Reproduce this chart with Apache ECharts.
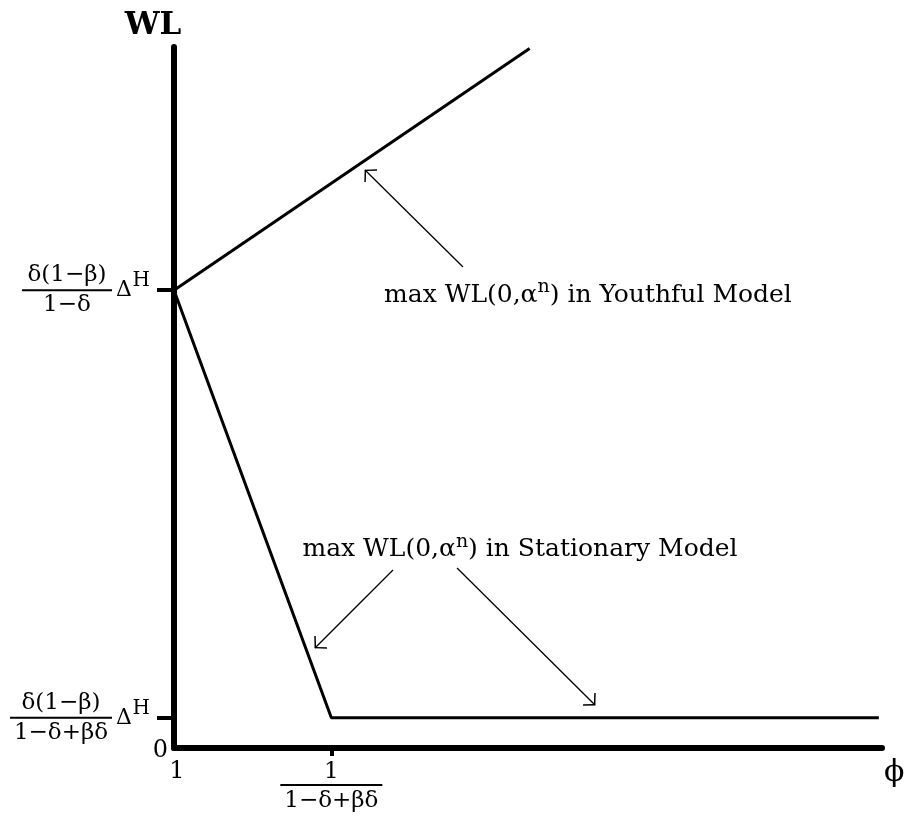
<!DOCTYPE html>
<html>
<head>
<meta charset="utf-8">
<script src="https://cdn.jsdelivr.net/npm/echarts@6/dist/echarts.min.js"></script>
<style>
  html, body { margin: 0; padding: 0; background: #fff; }
  #main { width: 905px; height: 818px; }
</style>
</head>
<body>
<div id="main"></div>
<script>
// values (phi on x, WL on y)
var xTicks = [1, 2];
var yTicks = [0, 0.43, 6.53];
var youthful = [[1, 6.53], [3.26, 9.98]];
var stationary = [[1, 6.53], [2, 0.43], [5.48, 0.43]];

// annotations: arrow [from, tip] and label anchor
var youthArrow = [[2.837, 6.862], [2.214, 8.245]];
var statArrows = [
  [[2.392, 2.539], [1.896, 1.427]],
  [[2.799, 2.568], [3.676, 0.613]]
];
var youthLabelAt = [3.631, 6.462];
var statLabelAt = [3.199, 2.825];

var serif = "DejaVu Serif";
var arrowHead = "path://M5,0L5,0ZM0,10L5,5L10,10L9.4,10.6L5,6.2L0.6,10.6Z";

var chartDom = document.getElementById("main");
var myChart = echarts.init(chartDom);
var option;

function note(model) {
  return "{t|max WL(0,α}{s|n}{t|) in " + model + " Model}";
}

var noteRich = {
  t: { fontFamily: serif, fontSize: 25, color: "#000", lineHeight: 30 },
  s: { fontFamily: serif, fontSize: 19, color: "#000", lineHeight: 30, padding: [0, 0, 16, 0] }
};

function yFrac(num, den, w) {
  return "{n" + w + "|" + num + "}{g| }\n" +
    "{b" + w + "| }{D|Δ}{H|H}{s| }\n" +
    "{d" + w + "|" + den + "}{g| }";
}

var txt = { fontFamily: serif, fontSize: 23, color: "#000" };
var yRich = {
  z: Object.assign({}, txt, { fontSize: 24, lineHeight: 24, padding: [5, 0, 0, 0] }),
  n90: Object.assign({}, txt, { width: 90, align: "center", lineHeight: 16 }),
  d90: Object.assign({}, txt, { width: 90, align: "center", lineHeight: 16 }),
  b90: { width: 90, height: 2, backgroundColor: "#000", lineHeight: 14 },
  n102: Object.assign({}, txt, { width: 102, align: "center", lineHeight: 16 }),
  d102: Object.assign({}, txt, { width: 102, align: "center", lineHeight: 16 }),
  b102: { width: 102, height: 2, backgroundColor: "#000", lineHeight: 14 },
  g: { width: 58, lineHeight: 16 },
  D: Object.assign({}, txt, { fontSize: 22, width: 20, lineHeight: 14 }),
  H: Object.assign({}, txt, { fontSize: 20, width: 18, lineHeight: 14, padding: [0, 0, 18, 0] }),
  s: { width: 20, lineHeight: 14 }
};

var xRich = {
  one: Object.assign({}, txt, { fontSize: 24, lineHeight: 20, padding: [0, 0, 0, 6] }),
  xn: Object.assign({}, txt, { lineHeight: 20 }),
  xb: { width: 102, height: 2, backgroundColor: "#000", lineHeight: 6 },
  xd: Object.assign({}, txt, { lineHeight: 26 })
};

function yLabel(v) {
  if (v === yTicks[0]) return "{z|0}";
  if (v === yTicks[1]) return yFrac("δ(1−β)", "1−δ+βδ", 102);
  return yFrac("δ(1−β)", "1−δ", 90);
}

option = {
  animation: false,
  backgroundColor: "#fff",
  grid: {
    left: 174,
    right: 23,
    top: 47,
    bottom: 70,
    outerBoundsMode: "none"
  },
  xAxis: {
    type: "value",
    min: 1,
    max: 5.5,
    name: "ϕ",
    nameLocation: "end",
    nameGap: 2,
    nameTextStyle: { fontFamily: serif, fontSize: 30, color: "#000", verticalAlign: "top", padding: [10, 0, 0, 0] },
    axisLine: { show: true, onZero: false, lineStyle: { color: "#000", width: 6 } },
    axisTick: { show: true, customValues: [xTicks[1]], length: 8, lineStyle: { color: "#000", width: 4 } },
    axisLabel: {
      customValues: xTicks,
      showMinLabel: true,
      margin: 14,
      verticalAlign: "top",
      formatter: function (v) {
        if (v === xTicks[0]) return "{one|1}";
        return "{xn|1}\n{xb| }\n{xd|1−δ+βδ}";
      },
      rich: xRich
    },
    splitLine: { show: false }
  },
  yAxis: [
    {
      type: "value",
      min: 0,
      max: 10,
      name: "WL",
      nameLocation: "end",
      nameGap: 6,
      nameTextStyle: { fontFamily: serif, fontWeight: "bold", fontSize: 31, color: "#000", padding: [0, 42, 0, 0] },
      axisLine: { show: true, onZero: false, lineStyle: { color: "#000", width: 6 } },
      axisTick: { show: true, customValues: [yTicks[1], yTicks[2]], length: 17, lineStyle: { color: "#000", width: 4 } },
      axisLabel: { customValues: [yTicks[1], yTicks[2]], margin: 4, formatter: yLabel, rich: yRich },
      splitLine: { show: false }
    },
    {
      // carries only the "0" at the corner, so it is not dropped as overlapping
      type: "value",
      position: "left",
      min: 0,
      max: 10,
      axisLine: { show: false },
      axisTick: { show: false },
      axisLabel: { customValues: [yTicks[0]], showMinLabel: true, margin: 6, formatter: yLabel, rich: yRich },
      splitLine: { show: false }
    }
  ],
  series: [
    {
      name: "Youthful",
      type: "line",
      data: youthful,
      symbol: "none",
      lineStyle: { color: "#000", width: 3 },
      emphasis: { disabled: true },
      markLine: {
        silent: true,
        animation: false,
        symbol: ["none", arrowHead],
        symbolSize: 18,
        label: { show: false },
        lineStyle: { color: "#000", width: 1.3, type: "solid" },
        emphasis: { disabled: true },
        data: [[{ coord: youthArrow[0] }, { coord: youthArrow[1] }]]
      },
      markPoint: {
        silent: true,
        animation: false,
        symbol: "rect",
        symbolSize: 1,
        itemStyle: { color: "rgba(0,0,0,0)" },
        label: { show: true, position: "inside", formatter: note("Youthful"), rich: noteRich },
        data: [{ coord: youthLabelAt }]
      }
    },
    {
      name: "Stationary",
      type: "line",
      data: stationary,
      symbol: "none",
      lineStyle: { color: "#000", width: 3 },
      emphasis: { disabled: true },
      markLine: {
        silent: true,
        animation: false,
        symbol: ["none", arrowHead],
        symbolSize: 18,
        label: { show: false },
        lineStyle: { color: "#000", width: 1.3, type: "solid" },
        emphasis: { disabled: true },
        data: statArrows.map(function (a) {
          return [{ coord: a[0] }, { coord: a[1] }];
        })
      },
      markPoint: {
        silent: true,
        animation: false,
        symbol: "rect",
        symbolSize: 1,
        itemStyle: { color: "rgba(0,0,0,0)" },
        label: { show: true, position: "inside", formatter: note("Stationary"), rich: noteRich },
        data: [{ coord: statLabelAt }]
      }
    }
  ]
};

option && myChart.setOption(option);
</script>
</body>
</html>
